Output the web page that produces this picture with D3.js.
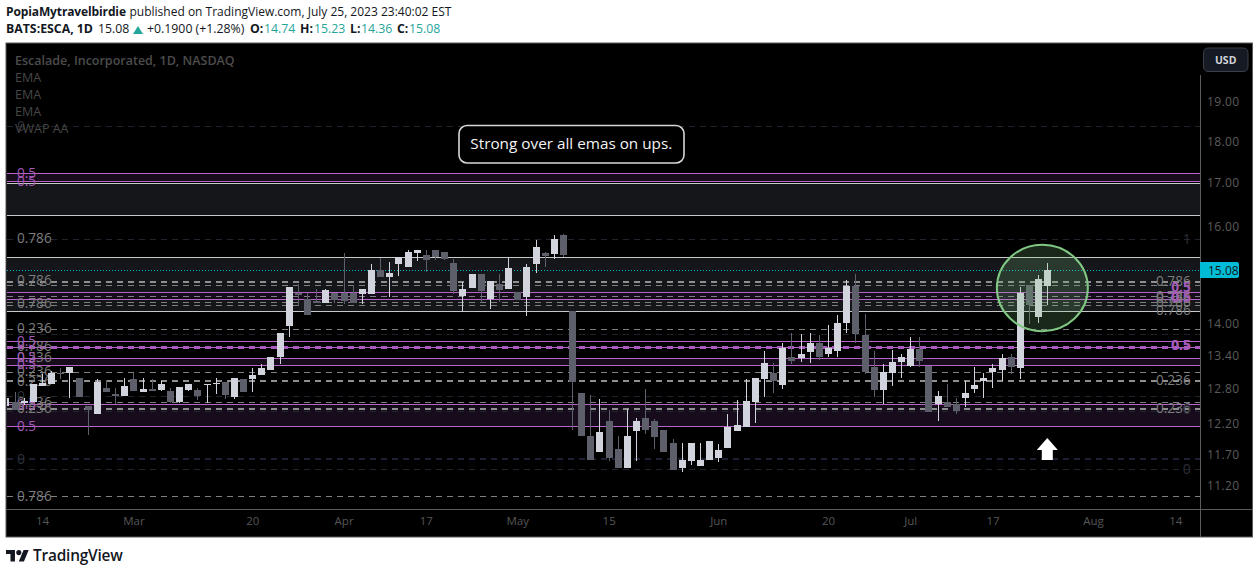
<!DOCTYPE html>
<html><head><meta charset="utf-8">
<script src="https://cdn.jsdelivr.net/npm/d3@7"></script>
<style>
html,body{margin:0;padding:0;background:#fff;overflow:hidden}
svg{display:block}
text{font-family:"Open Sans","Noto Sans",sans-serif}
</style></head><body><svg id="c" width="1259" height="574"></svg>
<script>
const opens=[12.51,12.58,12.56,12.57,12.86,12.89,13.08,13.08,13.00,12.50,12.37,12.82,12.71,12.68,12.98,12.75,12.80,12.78,12.76,12.58,12.78,12.78,12.88,12.88,12.93,12.66,12.97,12.98,13.04,13.13,13.38,13.96,14.61,14.49,14.44,14.41,14.61,14.61,14.61,14.59,14.59,15.08,14.93,15.21,15.14,15.44,15.39,15.50,15.46,15.23,14.55,14.71,15.00,14.49,14.79,14.69,14.63,14.53,15.21,15.44,15.42,15.83,14.25,12.73,12.00,11.74,12.25,11.79,11.48,12.08,12.30,12.25,12.10,11.88,11.48,11.59,11.51,11.61,11.64,11.80,12.08,12.15,12.58,12.98,13.08,12.87,13.37,13.35,13.46,13.63,13.44,13.48,14.02,14.75,13.78,13.19,12.78,13.08,13.28,13.22,13.52,13.22,12.54,12.58,12.54,12.64,12.80,12.95,13.10,13.13,13.37,13.17,14.77,14.14,14.74];
const highs=[12.64,12.75,12.64,12.89,13.06,13.12,13.18,13.19,13.00,12.50,12.98,12.96,12.81,13.00,13.08,13.00,12.97,12.94,12.81,12.84,12.89,12.82,12.89,13.00,12.93,13.00,12.97,13.17,13.24,13.37,13.82,14.73,14.79,14.60,14.69,14.69,14.61,15.44,14.77,14.69,15.21,15.33,15.25,15.35,15.50,15.50,15.50,15.50,15.46,15.31,14.83,15.00,15.00,14.85,15.00,15.33,14.63,15.21,15.72,15.46,15.83,15.85,14.25,12.73,12.69,12.63,12.44,12.00,12.46,12.30,12.80,12.29,12.10,11.95,11.88,11.88,11.88,11.91,11.86,12.36,12.61,12.98,13.00,13.48,13.26,13.64,13.83,13.80,13.83,13.78,13.98,14.18,14.87,15.00,14.20,13.48,13.24,13.50,13.44,13.74,13.74,13.22,12.76,12.89,12.64,12.95,13.20,13.08,13.24,13.43,13.44,14.73,14.77,14.98,15.23];
const lows=[12.51,12.44,12.52,12.57,12.86,12.89,12.97,12.64,12.66,12.02,12.37,12.75,12.54,12.68,12.76,12.75,12.77,12.76,12.56,12.56,12.76,12.61,12.56,12.71,12.63,12.63,12.75,12.75,13.04,13.13,13.24,13.74,14.35,14.18,14.41,14.41,14.41,14.39,14.41,14.39,14.59,14.93,14.53,14.95,15.14,15.27,15.04,15.29,15.29,14.59,14.24,14.71,14.41,14.29,14.43,14.69,14.47,14.16,15.02,15.14,15.31,15.35,12.10,12.00,11.61,11.74,11.59,11.48,11.48,11.59,12.03,11.79,11.74,11.45,11.42,11.53,11.51,11.61,11.58,11.80,12.08,12.15,12.22,12.66,12.73,12.80,13.24,13.28,13.26,13.33,13.38,13.38,13.82,13.64,13.06,12.66,12.54,12.85,13.00,13.20,13.19,12.40,12.24,12.49,12.36,12.49,12.73,12.64,12.82,12.95,13.06,12.98,14.00,14.02,14.36];
const closes=[12.64,12.44,12.59,12.89,12.90,13.08,13.06,13.19,12.66,12.44,12.93,12.75,12.68,12.85,12.76,12.80,12.77,12.89,12.58,12.84,12.89,12.68,12.89,12.90,12.69,13.00,12.75,13.04,13.17,13.37,13.82,14.73,14.57,14.18,14.41,14.67,14.47,14.45,14.41,14.69,15.08,14.93,15.02,15.35,15.46,15.50,15.29,15.35,15.31,14.65,14.69,15.00,14.65,14.85,14.67,15.12,14.47,15.14,15.56,15.37,15.74,15.39,12.93,12.00,11.61,12.07,11.64,11.48,12.00,12.25,12.10,11.98,11.74,11.45,11.61,11.88,11.61,11.91,11.77,12.15,12.18,12.59,13.00,13.26,12.95,13.54,13.30,13.43,13.63,13.37,13.54,14.02,14.75,13.80,13.10,12.78,13.10,13.28,13.37,13.52,13.31,12.40,12.68,12.49,12.42,12.73,12.87,13.00,13.17,13.35,13.20,14.61,14.37,14.89,15.08];

const priceTicks=[19,18,17,16,14,13.4,12.8,12.2,11.7,11.2];
const dateTickBars=[4,14,27,37,46,56,66,78,90,99,108,119,128];
const dateTickLabels=["14","Mar","20","Apr","17","May","15","Jun","20","Jul","17","Aug","14"];

const purpleBands=[[17.23,17.04],[14.63,14.49],[13.36,13.23],[12.53,12.16]];
const grayBands=[[16.99,16.26],[15.35,14.25]];
const solidPurple=[17.23,17.04,14.63,14.49,13.67,13.57,13.36,13.23,12.53,12.16];
const solidWhite=[16.99,16.26,15.35,14.25];
const thickDash=[14.83,12.94,12.45];
const thinDash=[14.77,14.55,14.43,14.37,13.90,13.11,12.57,11.05];
const faintDash=[18.38,15.74,13.80,12.67,12.42,11.46];
const thickFaintDash=[11.62];
const thickPurpleDash=[13.57];
const lastPrice=15.08;

const leftLabelText=["0.786","0.786","0.786","0.236","0.786","0.236","0.236","0.236","0.236","0.236","0.786"];
const leftLabelPrice=[15.75,14.87,14.40,13.92,13.57,13.37,13.11,12.94,12.57,12.46,11.05];
const leftPurpleText=["0.5","0.5","0.5","0.5","0.5","0.5","0.5"];
const leftPurplePrice=[17.23,17.04,13.68,13.38,13.25,12.53,12.16];
const dimLeftText=["0","0","0"];
const dimLeftPrice=[18.38,12.67,11.62];
const dimRightText=["1","0","0"];
const dimRightPrice=[15.74,12.46,11.46];
const rightLabelText=["0.786","0.786","0.786","0.786","0.786","0.236","0.236"];
const rightLabelPrice=[14.85,14.55,14.50,14.43,14.27,12.95,12.46];
const rightPurpleText=["0.5","0.5","0.5","0.5"];
const rightPurplePrice=[14.72,14.52,13.60,13.60];

const plotL=7,plotR=1200,plotT=44,plotB=509,frameR=1252.5,frameB=537;
const svg=d3.select("#c");
const x=d3.scaleLinear().domain([1,114]).range([14.6,1047.3]);
const y=d3.scaleLog().domain([11.2,19]).range([486,102]);
const crisp=v=>Math.round(v);

svg.append("rect").attr("x",6).attr("y",43).attr("width",frameR-6).attr("height",frameB-43).attr("fill","#000").attr("stroke","#5a5a5a").attr("stroke-width",1);
svg.append("defs").append("clipPath").attr("id","plot").append("rect").attr("x",plotL).attr("y",plotT).attr("width",plotR-plotL).attr("height",plotB-plotT);
const g=svg.append("g").attr("clip-path","url(#plot)");
const gr=g.append("g").attr("shape-rendering","crispEdges");

function band(list,fill){gr.selectAll(null).data(list).enter().append("rect").attr("x",plotL).attr("width",plotR-plotL)
 .attr("y",d=>y(d[0])).attr("height",d=>y(d[1])-y(d[0])).attr("fill",fill);}
band(grayBands,"#14161a");band(purpleBands,"#160c1c");

function hlines(list,stroke,w,dash){gr.selectAll(null).data(list).enter().append("line").attr("x1",plotL).attr("x2",plotR)
 .attr("y1",d=>crisp(y(d))+(w%2?.5:0)).attr("y2",d=>crisp(y(d))+(w%2?.5:0)).attr("stroke",stroke).attr("stroke-width",w).attr("stroke-dasharray",dash||null);}
hlines(faintDash,"#20242e",1,"6 5");
hlines(thickFaintDash,"#1c2030",2,"6 5");
hlines(thinDash,"#808080",1,"6 5");
hlines(thickDash,"#8f8f8f",2,"6 5");
hlines(solidWhite,"#c8c8c8",1);
hlines(solidPurple,"#b565c6",1);
hlines(thickPurpleDash,"#a85bbb",3,"6 5");
gr.append("line").attr("x1",plotL).attr("x2",plotR).attr("y1",crisp(y(lastPrice))+.5).attr("y2",crisp(y(lastPrice))+.5)
 .attr("stroke","#00bcd4").attr("stroke-width",1).attr("stroke-dasharray","1 2");

function labels(txt,pr,anchor,xp,fill,size,weight){g.selectAll(null).data(txt).enter().append("text").text(d=>d)
 .attr("x",xp).attr("y",(d,i)=>y(pr[i])).attr("dy","0.36em").attr("text-anchor",anchor).attr("fill",fill)
 .attr("font-size",size).attr("font-weight",weight||400);}
labels(leftLabelText,leftLabelPrice,"start",17,"#7c7c7c",13.6,500);
labels(leftPurpleText,leftPurplePrice,"start",17,"#a45ab8",13.6,500);
labels(rightLabelText,rightLabelPrice,"end",1190.7,"#7c7c7c",13.6,500);
labels(rightPurpleText,rightPurplePrice,"end",1190.7,"#a45ab8",13.6,700);
labels(dimLeftText,dimLeftPrice,"start",17,"#2c2f38",14);
labels(dimRightText,dimRightPrice,"end",1190.7,"#2c2f38",14);

const candles=d3.range(opens.length).map(i=>({i,o:opens[i],h:highs[i],l:lows[i],c:closes[i]}));
const cg=g.append("g").attr("shape-rendering","crispEdges");
const colr=d=>d.c>=d.o?"#d1d4dc":"#5d606b";
cg.selectAll("line.w").data(candles).enter().append("line").attr("class","w")
 .attr("x1",d=>crisp(x(d.i))+.5).attr("x2",d=>crisp(x(d.i))+.5).attr("y1",d=>y(d.h)).attr("y2",d=>y(d.l)).attr("stroke",colr);
cg.selectAll("rect.b").data(candles).enter().append("rect").attr("class","b")
 .attr("x",d=>crisp(x(d.i))-3).attr("width",7)
 .attr("y",d=>crisp(y(Math.max(d.o,d.c))))
 .attr("height",d=>Math.max(1,crisp(y(Math.min(d.o,d.c)))-crisp(y(Math.max(d.o,d.c)))))
 .attr("fill",colr);

// annotations
const circleBars=[113.46],circleTop=[15.61],circleBottom=[13.86];
g.append("ellipse").attr("cx",x(circleBars[0])).attr("cy",(y(circleTop[0])+y(circleBottom[0]))/2)
 .attr("rx",45.5).attr("ry",(y(circleBottom[0])-y(circleTop[0]))/2)
 .attr("fill","rgba(129,199,132,0.2)").attr("stroke","#81c784").attr("stroke-width",2);
const ax=x(114);
g.append("path").attr("d",`M${ax} 438L${ax+10.5} 450H${ax+5.5}V460H${ax-5.5}V450H${ax-10.5}Z`).attr("fill","#fff");
g.append("rect").attr("x",459).attr("y",125.5).attr("width",225).attr("height",37.5).attr("rx",8).attr("fill","#000").attr("stroke","#d8d8d8").attr("stroke-width",1.6);
g.append("text").attr("x",571.3).attr("y",149).attr("text-anchor","middle").attr("fill","#f4f4f4").attr("font-size",15.3).attr("font-weight",500).text("Strong over all emas on ups.");

// legend
const legendText=["EMA","EMA","EMA","VWAP AA"],legendY=[77.5,94.5,111.5,128.5];
svg.append("text").attr("x",15).attr("y",64.5).attr("fill","#4c4c4c").attr("font-size",12.5).attr("font-weight",600).text("Escalade, Incorporated, 1D, NASDAQ");
svg.selectAll(null).data(legendText).enter().append("text").attr("x",15).attr("y",(d,i)=>legendY[i]+4.5).attr("fill","#474747").attr("font-size",12.5).text(d=>d);

// axes
const yAxis=d3.axisRight(y).tickValues(priceTicks).tickFormat(d3.format(".2f")).tickSize(0).tickPadding(7);
const ya=svg.append("g").attr("transform",`translate(${plotR},0)`).call(yAxis);
ya.select(".domain").remove();
ya.selectAll("text").attr("fill","#5c5c5c").attr("font-size",12).attr("font-family","'Open Sans',sans-serif").attr("letter-spacing",".4px");
const xAxis=d3.axisBottom(x).tickValues(dateTickBars).tickFormat((d,i)=>dateTickLabels[i]).tickSize(0).tickPadding(8);
const xa=svg.append("g").attr("transform",`translate(0,${plotB})`).call(xAxis);
xa.select(".domain").remove();
xa.selectAll("text").attr("fill","#565656").attr("font-size",11.5).attr("font-family","'Open Sans',sans-serif");
const fr=svg.append("g").attr("shape-rendering","crispEdges").attr("stroke","#5a5a5a");
fr.append("line").attr("x1",6).attr("x2",frameR).attr("y1",509.5).attr("y2",509.5);
fr.append("line").attr("x1",plotR+.5).attr("x2",plotR+.5).attr("y1",75).attr("y2",frameB);

// last price tag
svg.append("path").attr("d","M1200 262H1237a2 2 0 0 1 2 2V276a2 2 0 0 1 -2 2H1200Z").attr("fill","#00bcd4");
svg.append("text").attr("x",1208).attr("y",274.5).attr("fill","#131722").attr("font-size",12).text(d3.format(".2f")(lastPrice));

// USD
svg.append("rect").attr("x",1203.5).attr("y",48).attr("width",44.5).attr("height",23.5).attr("rx",4.5).attr("fill","#161a22").attr("stroke","#3a3f4a");
svg.append("text").attr("x",1225.7).attr("y",64).attr("text-anchor","middle").attr("fill","#d1d4dc").attr("font-size",10.5).attr("font-weight",700).text("USD");

// header
const teal="#26a69a",ink="#131722",hf="'Noto Sans',sans-serif";
const t1=svg.append("text").attr("x",6).attr("y",16).attr("font-size",12).attr("fill",ink).attr("font-family",hf);
t1.append("tspan").attr("font-weight",700).attr("textLength",120).text("PopiaMytravelbirdie");
t1.append("tspan").attr("x",129.5).text("published on TradingView.com, July 25, 2023 23:40:02 EST");
const headerRuns=[["BATS:ESCA, 1D",6,ink,700],["15.08",98,ink,400],["+0.1900 (+1.28%)",147,ink,400],
 ["O:",250,ink,700],["14.74",264,teal,400],["H:",300,ink,700],["15.23",314,teal,400],
 ["L:",350,ink,700],["14.36",361,teal,400],["C:",397,ink,700],["15.08",409,teal,400]];
svg.selectAll(null).data(headerRuns).enter().append("text").attr("x",d=>d[1]).attr("y",33).attr("font-size",12.3)
 .attr("font-family",hf).attr("fill",d=>d[2]).attr("font-weight",d=>d[3]).text(d=>d[0]);
svg.append("path").attr("d","M138 26L143 34H133Z").attr("fill",teal);

// logo
const lg=svg.append("g").attr("transform","translate(6,546.2) scale(0.64)").attr("fill","#131722");
lg.append("path").attr("d","M14 6H0v6h7v12h7V6zM28 24h-8l7.5-18h8L28 24z");
lg.append("circle").attr("cx",20).attr("cy",10).attr("r",4);
svg.append("text").attr("x",33).attr("y",561).attr("font-size",15.4).attr("font-weight",600).attr("fill","#131722")
 .attr("font-family","Inter,sans-serif").attr("letter-spacing","-.2px").text("TradingView");
</script></body></html>
